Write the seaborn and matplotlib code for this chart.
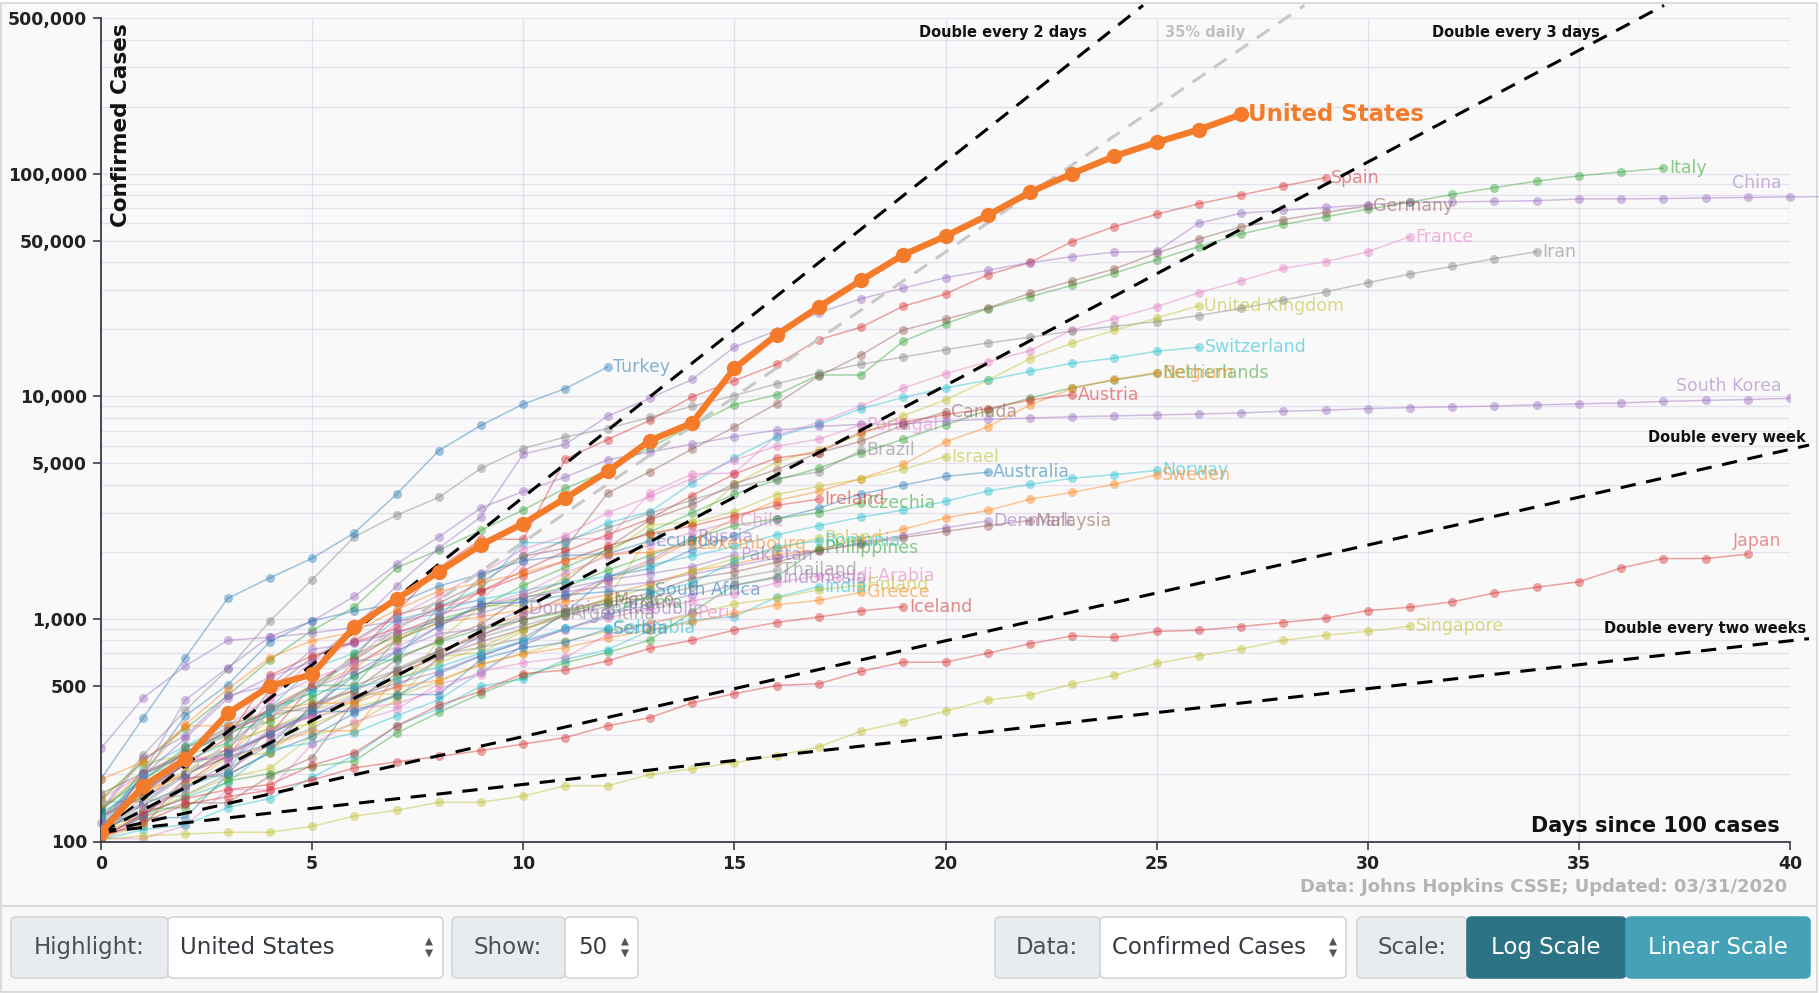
import numpy as np
import pandas as pd
import matplotlib
matplotlib.use("Agg")
import matplotlib.pyplot as plt
import seaborn as sns
from matplotlib.patches import FancyBboxPatch, Rectangle, Polygon
from matplotlib.transforms import IdentityTransform
from matplotlib.ticker import FixedLocator, FuncFormatter, NullFormatter

# ---------------- data (cases by days since 100 cases) ----------------
US = [110, 178, 234, 376, 499, 563, 922, 1228, 1627, 2150, 2680, 3485, 4600, 6320, 7590,
      13335, 18880, 25180, 33180, 43170, 52350, 64940, 82540, 100000, 119700, 138200, 157700, 184500]
ITALY = [155, 229, 322, 453, 655, 888, 1128, 1694, 2036, 2502, 3089, 3858, 4636, 5883, 7375, 9172,
         10149, 12462, 12462, 17660, 21157, 24747, 27980, 31506, 35713, 41035, 47021, 53578, 59138,
         63927, 69176, 74386, 80589, 86498, 92472, 97689, 101739, 105792]
SPAIN = [120, 165, 222, 259, 400, 500, 673, 1073, 1695, 2277, 2277, 5232, 6391, 7798, 9942, 11748,
         13910, 17963, 20410, 25374, 28768, 35136, 39885, 49515, 57786, 65719, 73235, 80110, 87956, 95923]
CHINA = [121, 198, 291, 440, 548, 643, 920, 1406, 2075, 2877, 5509, 6087, 8141, 9802, 11891, 16630,
         19716, 23707, 27440, 30587, 34110, 36814, 39829, 42354, 44386, 44759, 59895, 66358, 68413,
         70513, 72434, 74211, 74619, 75077, 75550, 77001, 77022, 77241, 77754, 78166, 78600, 78928,
         79356, 79932, 80136]
GERMANY = [130, 159, 196, 262, 482, 670, 799, 1040, 1176, 1457, 1908, 2078, 3675, 4585, 5795, 7272,
           9257, 12327, 15320, 19848, 22213, 24873, 29056, 32986, 37323, 43938, 50871, 57695, 62095,
           66885, 71808]
FRANCE = [100, 130, 191, 204, 288, 380, 656, 957, 1134, 1217, 1792, 2289, 2289, 3672, 4480, 4513,
          6650, 7652, 9043, 10871, 12612, 14282, 16018, 19856, 22304, 25233, 29155, 32964, 37575,
          40174, 44550, 52128]
IRAN = [139, 245, 388, 593, 978, 1501, 2336, 2922, 3513, 4747, 5823, 6566, 7161, 8042, 9000, 10075,
        11364, 12729, 13938, 14991, 16169, 17361, 18407, 19644, 20610, 21638, 23049, 24811, 27017,
        29406, 32332, 35408, 38309, 41495, 44605]
UK = [116, 164, 207, 274, 322, 384, 459, 459, 802, 1144, 1145, 1551, 1960, 2642, 2716, 4014, 5067,
      5745, 6726, 8164, 9640, 11812, 14745, 17312, 19780, 22453, 25481]
SWITZERLAND = [114, 214, 268, 337, 374, 491, 652, 652, 1139, 1359, 2200, 2200, 2700, 3028, 4075, 5294,
               6575, 7474, 8795, 9877, 10897, 11811, 12928, 14076, 14829, 15922, 16605]
NETHERLANDS = [128, 188, 265, 321, 382, 503, 503, 804, 959, 1135, 1413, 1705, 2051, 2460, 2994, 3631,
               4204, 4749, 5560, 6412, 7431, 8647, 9819, 10930, 11817, 12667]
BELGIUM = [109, 169, 200, 239, 267, 314, 314, 559, 689, 886, 1058, 1243, 1486, 1795, 2257, 2815, 3401,
           3743, 4269, 4937, 6235, 7284, 9134, 10836, 11899, 12775]
AUSTRIA = [104, 131, 182, 246, 302, 504, 655, 860, 1018, 1332, 1646, 2013, 2388, 2814, 3582, 4474,
           5283, 5588, 6909, 7657, 8271, 8788, 9618, 10180]
SOUTH_KOREA = [104, 204, 433, 602, 833, 977, 1261, 1766, 2337, 3150, 3736, 4335, 5186, 5621, 6088,
               6593, 7041, 7314, 7478, 7513, 7755, 7869, 7979, 8086, 8162, 8236, 8320, 8413, 8565,
               8652, 8799, 8897, 8961, 9037, 9137, 9241, 9332, 9478, 9583, 9661, 9786]
TURKEY = [191, 359, 670, 1236, 1529, 1872, 2433, 3629, 5698, 7402, 9217, 10827, 13531]
CANADA = [108, 117, 193, 198, 252, 415, 478, 657, 800, 943, 1277, 1469, 2088, 2790, 3251, 4042, 4682,
          5576, 6280, 7398, 8527]
PORTUGAL = [112, 169, 245, 331, 448, 642, 785, 1020, 1280, 1600, 2060, 2362, 2995, 3544, 4268, 5170,
            5962, 6408, 7443]
BRAZIL = [151, 151, 162, 200, 321, 372, 621, 793, 1021, 1546, 1924, 2247, 2554, 2985, 3417, 3904,
          4256, 4579, 5717]
ISRAEL = [109, 131, 161, 193, 213, 298, 337, 433, 677, 705, 883, 1071, 1238, 2369, 2693, 3035, 3619,
          3938, 4247, 4695, 5358]
AUSTRALIA = [107, 128, 128, 200, 250, 297, 377, 452, 568, 681, 791, 1071, 1549, 1682, 2044, 2364,
             2810, 3143, 3640, 3984, 4361, 4559]
NORWAY = [108, 147, 176, 205, 400, 598, 702, 996, 1090, 1221, 1333, 1463, 1550, 1746, 1914, 2118,
          2385, 2621, 2863, 3084, 3369, 3755, 4015, 4284, 4445, 4641]
SWEDEN = [101, 161, 203, 248, 355, 500, 599, 814, 961, 1022, 1103, 1190, 1279, 1439, 1639, 1763,
          1934, 2046, 2286, 2526, 2840, 3069, 3447, 3700, 4028, 4435]
IRELAND = [129, 169, 223, 292, 557, 683, 785, 906, 1125, 1329, 1564, 1819, 2121, 2415, 2615, 2910,
           3235, 3447]
CZECHIA = [141, 189, 253, 298, 396, 464, 694, 833, 995, 1120, 1236, 1394, 1654, 1925, 2279, 2631,
           2817, 3001, 3308]
DENMARK = [262, 442, 615, 801, 827, 864, 914, 977, 1057, 1151, 1255, 1326, 1395, 1460, 1591, 1724,
           1877, 2023, 2200, 2366, 2564, 2755]
MALAYSIA = [117, 129, 149, 149, 197, 238, 428, 566, 673, 790, 900, 1030, 1183, 1306, 1518, 1624,
            1796, 2031, 2161, 2320, 2470, 2626, 2766]
CHILE = [155, 201, 238, 238, 434, 537, 632, 746, 922, 1142, 1306, 1610, 1909, 2139, 2449, 2738]
ECUADOR = [111, 199, 367, 506, 789, 981, 1082, 1173, 1403, 1595, 1823, 1924, 1962, 2240]
RUSSIA = [114, 147, 199, 253, 306, 367, 438, 495, 658, 840, 1036, 1264, 1534, 1836, 2337]
LUXEMBOURG = [140, 203, 335, 484, 670, 798, 875, 1099, 1333, 1453, 1605, 1831, 1950, 1988, 2178]
PAKISTAN = [136, 236, 299, 454, 501, 730, 776, 875, 972, 1063, 1201, 1373, 1495, 1597, 1717, 1938]
POLAND = [103, 119, 177, 238, 251, 355, 425, 536, 634, 749, 901, 1051, 1221, 1389, 1638, 1862, 2055, 2311]
ROMANIA = [123, 131, 158, 184, 260, 277, 308, 367, 433, 576, 762, 906, 1029, 1292, 1452, 1815, 2109, 2245]
PHILIPPINES = [111, 140, 142, 187, 202, 217, 230, 307, 380, 462, 552, 636, 707, 803, 1075, 1418,
               1546, 2084]
THAILAND = [114, 147, 177, 212, 272, 322, 411, 599, 721, 827, 934, 1045, 1136, 1245, 1388, 1524, 1651]
INDONESIA = [117, 134, 172, 227, 311, 369, 450, 514, 579, 686, 790, 893, 1046, 1155, 1285, 1414, 1528]
SAUDI_ARABIA = [103, 103, 118, 171, 171, 274, 344, 392, 511, 562, 767, 900, 1012, 1104, 1203, 1299,
                1453, 1563]
INDIA = [102, 113, 119, 142, 156, 194, 244, 330, 396, 499, 536, 657, 727, 887, 987, 1024, 1251, 1397]
FINLAND = [155, 225, 244, 277, 321, 336, 400, 450, 523, 626, 700, 792, 880, 958, 1041, 1167, 1240,
           1352, 1418]
GREECE = [190, 228, 331, 331, 387, 418, 418, 495, 530, 624, 695, 743, 821, 892, 966, 1061, 1156, 1212, 1314]
ICELAND = [103, 134, 156, 171, 180, 220, 250, 330, 409, 473, 568, 588, 648, 737, 802, 890, 963, 1020,
           1086, 1135]
SOUTH_AFRICA = [116, 150, 202, 240, 274, 402, 554, 709, 927, 1170, 1187, 1280, 1326, 1353]
PANAMA = [137, 200, 245, 313, 345, 443, 558, 674, 786, 901, 989, 1075, 1181]
MEXICO = [164, 203, 251, 316, 367, 405, 475, 585, 717, 848, 993, 1094, 1215]
ARGENTINA = [128, 158, 266, 301, 387, 387, 502, 589, 690, 745, 820, 1054]
DOMINICAN_REP = [112, 202, 245, 312, 392, 488, 581, 719, 859, 901, 1109]
PERU = [117, 145, 234, 234, 318, 363, 395, 416, 480, 580, 635, 671, 852, 950, 1065]
SERBIA = [135, 171, 222, 249, 303, 384, 384, 457, 457, 659, 741, 785, 900]
COLOMBIA = [128, 196, 231, 277, 378, 470, 491, 539, 608, 702, 798, 906, 906]
JAPAN = [105, 122, 147, 159, 170, 189, 214, 228, 241, 256, 274, 293, 331, 360, 420, 461, 502, 511,
         581, 639, 639, 701, 773, 839, 825, 878, 889, 924, 963, 1007, 1089, 1128, 1193, 1307, 1387,
         1468, 1693, 1866, 1866, 1953]
SINGAPORE = [102, 106, 108, 110, 110, 117, 130, 138, 150, 150, 160, 178, 178, 200, 212, 226, 243, 266,
             313, 345, 385, 432, 455, 509, 558, 631, 683, 732, 802, 844, 879, 926]

SERIES = [
    ("Italy", ITALY, "green"), ("Spain", SPAIN, "red"), ("Germany", GERMANY, "brown"),
    ("France", FRANCE, "pink"), ("Iran", IRAN, "gray"), ("United Kingdom", UK, "olive"),
    ("Switzerland", SWITZERLAND, "cyan"), ("Netherlands", NETHERLANDS, "green"),
    ("Belgium", BELGIUM, "orange"), ("Austria", AUSTRIA, "red"), ("South Korea", SOUTH_KOREA, "purple"),
    ("Turkey", TURKEY, "blue"), ("Canada", CANADA, "brown"), ("Portugal", PORTUGAL, "pink"),
    ("Brazil", BRAZIL, "gray"), ("Israel", ISRAEL, "olive"), ("Australia", AUSTRALIA, "blue"),
    ("Norway", NORWAY, "cyan"), ("Sweden", SWEDEN, "orange"), ("Ireland", IRELAND, "red"),
    ("Czechia", CZECHIA, "green"), ("Denmark", DENMARK, "purple"), ("Malaysia", MALAYSIA, "brown"),
    ("Chile", CHILE, "pink"), ("Ecuador", ECUADOR, "blue"), ("Russia", RUSSIA, "purple"),
    ("Luxembourg", LUXEMBOURG, "orange"), ("Pakistan", PAKISTAN, "purple"), ("Poland", POLAND, "olive"),
    ("Romania", ROMANIA, "cyan"), ("Philippines", PHILIPPINES, "green"), ("Thailand", THAILAND, "gray"),
    ("Indonesia", INDONESIA, "purple"), ("Saudi Arabia", SAUDI_ARABIA, "pink"), ("India", INDIA, "cyan"),
    ("Finland", FINLAND, "olive"), ("Greece", GREECE, "orange"), ("Iceland", ICELAND, "red"),
    ("South Africa", SOUTH_AFRICA, "blue"), ("Panama", PANAMA, "green"), ("Mexico", MEXICO, "brown"),
    ("Argentina", ARGENTINA, "gray"), ("Dominican Republic", DOMINICAN_REP, "purple"),
    ("Peru", PERU, "pink"), ("Serbia", SERBIA, "blue"), ("Colombia", COLOMBIA, "cyan"),
    ("Japan", JAPAN, "red"), ("Singapore", SINGAPORE, "olive"), ("China", CHINA, "purple"),
]
HIGHLIGHT = "United States"

CAT10 = {"blue": "#1f77b4", "orange": "#ff7f0e", "green": "#2ca02c", "red": "#d62728",
         "purple": "#9467bd", "brown": "#8c564b", "pink": "#e377c2", "gray": "#7f7f7f",
         "olive": "#bcbd22", "cyan": "#17becf"}
US_COLOR = "#f47b2a"

# reference growth lines: (label, daily factor, colour)
REF_LINES = [("Double every 2 days", 2 ** (1 / 2), "black"),
             ("35% daily", 1.35, "#c8c8c8"),
             ("Double every 3 days", 2 ** (1 / 3), "black"),
             ("Double every week", 2 ** (1 / 7), "black"),
             ("Double every two weeks", 2 ** (1 / 14), "black")]

YTICKS = [100, 500, 1000, 5000, 10000, 50000, 100000, 500000]
XTICKS = [0, 5, 10, 15, 20, 25, 30, 35, 40]

# ---------------- build long table ----------------
rows = []
for name, vals, _ in SERIES:
    for d, v in enumerate(vals):
        rows.append((name, d, v))
for d, v in enumerate(US):
    rows.append((HIGHLIGHT, d, v))
df = pd.DataFrame(rows, columns=["country", "day", "cases"])
PALETTE = {name: CAT10[c] for name, _, c in SERIES}

# ---------------- figure ----------------
W, H = 1819, 993
sns.set_theme(style="white")
plt.rcParams["font.family"] = ["DejaVu Sans"]

BG = "#f9f9f9"
fig = plt.figure(figsize=(W / 100, H / 100), dpi=100, facecolor="white")
ID = IdentityTransform()

# card background + border
fig.add_artist(Rectangle((1, H - 906), W - 3, 903, transform=ID, fc=BG, ec="#d6d6d6", lw=1.2, zorder=0))
fig.add_artist(Rectangle((1, 1), W - 3, H - 906 - 1, transform=ID, fc="#f8f8f8", ec="#d6d6d6", lw=1.2, zorder=0))

ax = fig.add_axes([101 / W, 1 - 841.5 / H, (1790 - 101) / W, (841.5 - 18) / H])
ax.set_facecolor(BG)

bg = df[~df.country.isin([HIGHLIGHT, "China"])]
sns.lineplot(data=bg, x="day", y="cases", hue="country", palette=PALETTE, marker="o",
             markersize=6.5, markeredgewidth=0, linewidth=1.1, alpha=0.42, estimator=None,
             sort=False, legend=False, ax=ax, zorder=2)
sns.lineplot(data=df[df.country == "China"], x="day", y="cases", color=PALETTE["China"], marker="o",
             markersize=6.5, markeredgewidth=0, linewidth=1.1, alpha=0.42, estimator=None,
             sort=False, legend=False, ax=ax, zorder=2)
ax.lines[-1].set_clip_on(False)

ax.set_yscale("log")
ax.set_xlim(0, 40)
ax.set_ylim(100, 500000)

# reference growth lines start at highlighted country's first value
base = US[0]
for label, rate, col in REF_LINES:
    x_end = min(40.45, np.log(570000 / base) / np.log(rate))
    xs = np.linspace(0, x_end, 300)
    ax.plot(xs, base * rate ** xs, color=col, lw=2.2, ls=(0, (5, 3.5)), clip_on=False, zorder=4)

sns.lineplot(data=df[df.country == HIGHLIGHT], x="day", y="cases", color=US_COLOR, marker="o",
             markersize=11, markeredgewidth=0, linewidth=4.6, estimator=None, sort=False,
             legend=False, ax=ax, zorder=5)

# ---------------- labels for lines ----------------
EDGE_LABELS = {"China": 91000, "South Korea": 11100, "Japan": 2240}
for name, vals, c in SERIES:
    col = CAT10[c]
    if name in EDGE_LABELS:
        ax.text(39.8, EDGE_LABELS[name], name, color=col, alpha=0.5, fontsize=12.5,
                ha="right", va="center", zorder=3)
    else:
        ax.annotate(name, (len(vals) - 1, vals[-1]), xytext=(4, 0), textcoords="offset points",
                    color=col, alpha=0.55, fontsize=12.5, ha="left", va="center", zorder=3)
ax.annotate(HIGHLIGHT, (len(US) - 1, US[-1]), xytext=(5, 0), textcoords="offset points",
            color=US_COLOR, fontsize=16.5, fontweight="bold", ha="left", va="center", zorder=6)

REF_LABEL_POS = [(23.35, 429500), (27.1, 429500), (35.5, 429500), (40.38, 6500), (40.38, 908)]
for (label, rate, col), (lx, ly) in zip(REF_LINES, REF_LABEL_POS):
    ax.text(lx, ly, label, color=("#c0c0c0" if col != "black" else "#111111"), fontsize=10.5,
            fontweight="bold", ha="right", va="center", clip_on=False, zorder=6)

# ---------------- axes styling ----------------
ax.set_xticks(XTICKS)
ax.yaxis.set_major_locator(FixedLocator(YTICKS))
ax.yaxis.set_major_formatter(FuncFormatter(lambda v, p: f"{int(round(v)):,}"))
minor = [m * 10 ** e for e in range(2, 6) for m in range(1, 10) if m * 10 ** e <= 500000]
ax.yaxis.set_minor_locator(FixedLocator(minor))
ax.yaxis.set_minor_formatter(NullFormatter())
ax.grid(True, which="both", axis="y", color="#e5e0f0", lw=1.0, zorder=0)
ax.grid(True, which="major", axis="x", color="#e5e0f0", lw=1.0, zorder=0)
ax.set_axisbelow(True)
for s in ["top", "right"]:
    ax.spines[s].set_visible(False)
for s in ["left", "bottom"]:
    ax.spines[s].set_color("#3b3b4b")
    ax.spines[s].set_linewidth(1.3)
ax.tick_params(which="major", length=6, width=1.2, color="#3b3b4b", labelsize=12.5,
               labelcolor="#222222", left=True, bottom=True, pad=4)
ax.tick_params(which="minor", length=0)
for lbl in ax.get_xticklabels() + ax.get_yticklabels():
    lbl.set_fontweight("bold")
ax.set_xlabel("")
ax.set_ylabel("")
ax.text(0.006, 0.994, "Confirmed Cases", rotation=90, ha="left", va="top", transform=ax.transAxes,
        fontsize=15.5, fontweight="bold", color="#111111")
ax.text(0.994, 0.011, "Days since 100 cases", ha="right", va="baseline", transform=ax.transAxes,
        fontsize=15, fontweight="bold", color="#111111")

fig.text(1787, H - 887, "Data: Johns Hopkins CSSE; Updated: 03/31/2020", transform=ID,
         ha="right", va="center", fontsize=13, fontweight="bold", color="#b4b4b4")

# ---------------- control bar ----------------
Y0, Y1 = 917, 978
YC = H - (Y0 + Y1) / 2


def box(x0, x1, fc, ec="#cfd4da"):
    fig.add_artist(FancyBboxPatch((x0, H - Y1), x1 - x0, Y1 - Y0, transform=ID,
                                  boxstyle="round,pad=0,rounding_size=5", fc=fc, ec=ec, lw=1.1))


def label(x, s, ha="center", color="#495057"):
    fig.text(x, YC, s, transform=ID, ha=ha, va="center", fontsize=16.5, color=color)


def updown(xc):
    for sgn in (1, -1):
        yb = YC + sgn * 2
        fig.add_artist(Polygon([(xc - 4, yb), (xc + 4, yb), (xc, yb + sgn * 8)], closed=True,
                               transform=ID, fc="#555555", ec="none"))


box(11, 168, "#e9ecef"); label(89, "Highlight:")
box(168, 443, "white"); label(180, "United States", ha="left", color="#343a40"); updown(429)
box(452, 565, "#e9ecef"); label(508, "Show:")
box(565, 638, "white"); label(578, "50", ha="left", color="#343a40"); updown(625)
box(995, 1100, "#e9ecef"); label(1047, "Data:")
box(1100, 1346, "white"); label(1112, "Confirmed Cases", ha="left", color="#343a40"); updown(1333)
box(1357, 1467, "#e9ecef"); label(1412, "Scale:")
box(1467, 1626, "#2d7386", ec="#2d7386"); label(1546, "Log Scale", color="white")
box(1626, 1810, "#45a2b6", ec="#45a2b6"); label(1718, "Linear Scale", color="white")

fig.savefig("out.png", dpi=100, facecolor=fig.get_facecolor())
